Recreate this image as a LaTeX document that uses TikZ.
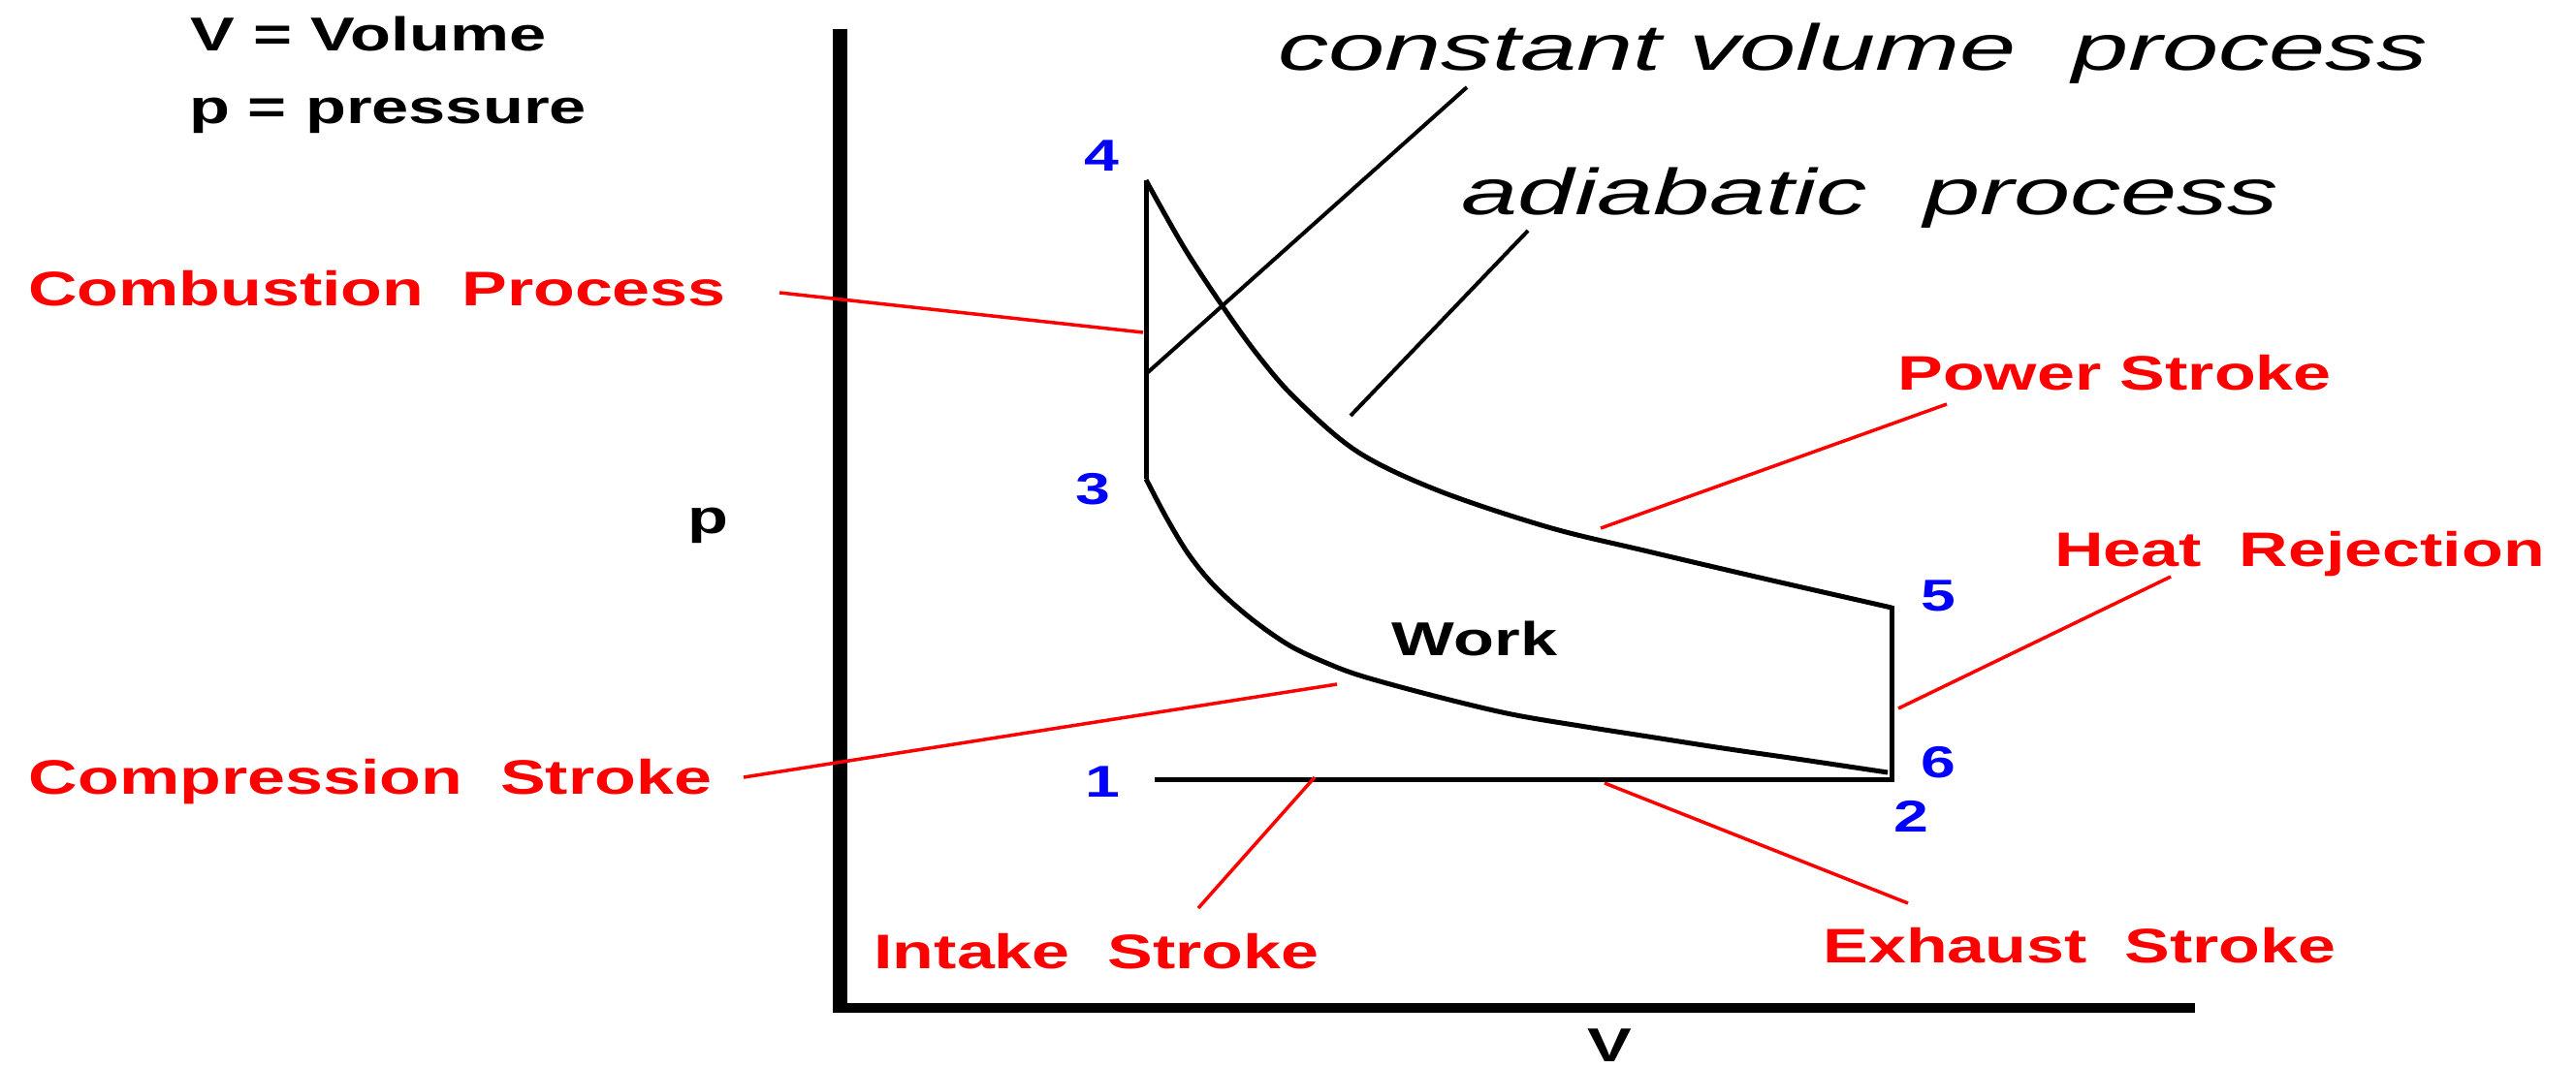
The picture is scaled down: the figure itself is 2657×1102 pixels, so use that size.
\documentclass[tikz,border=0pt]{standalone}
\usepackage{fontspec}
\setmainfont{Liberation Sans}
\newfontfamily\labfont{Liberation Sans}[FakeStretch=1.4]
\newfontfamily\slfont{Liberation Sans}[FakeStretch=1.56]
\begin{document}
\begin{tikzpicture}[x=1pt,y=-1pt,
  lab/.style={inner sep=0pt, anchor=base, text=red, font=\labfont\bfseries\fontsize{50}{60}\selectfont},
  blk/.style={inner sep=0pt, anchor=base, text=black, font=\labfont\bfseries\fontsize{49}{60}\selectfont},
  num/.style={inner sep=0pt, anchor=base, text=blue, font=\labfont\bfseries\fontsize{46}{55}\selectfont},
  sl/.style={inner sep=0pt, anchor=base, text=black, font=\slfont\itshape\fontsize{67}{80}\selectfont},
  cyc/.style={black, line width=5pt, line join=miter},
  lead/.style={red, line width=3.5pt},
  bl/.style={black, line width=4pt},
  vaxis/.style={black, line width=15pt},
  haxis/.style={black, line width=10pt}]
\fill[white] (0,0) rectangle (2657,1102);
\useasboundingbox (0,0) rectangle (2657,1102);

% axes
\coordinate (ytop) at (866.5,30);
\coordinate (orig) at (866.5,1045);
\coordinate (xorig) at (859,1040);
\coordinate (xend) at (2264,1040);
\draw[vaxis] (ytop) -- (orig);
\draw[haxis] (xorig) -- (xend);

% legend and axis labels
\node[blk] (vvol) at (380,53) {V = Volume};
\node[blk] (ppres) at (400,128) {p = pressure};
\node[blk] (plab) at (730,550) {p};
\node[blk] (vlab) at (1660,1095) {V};
\node[blk] (work) at (1521,676) {Work};

% cycle points
\coordinate (p4) at (1182,186);
\coordinate (p3) at (1182,494);
\coordinate (p1) at (1191,804);
\coordinate (p2) at (1951,804);
\coordinate (p5) at (1951,625);
\coordinate (p6) at (1951,798);

% cycle
\draw[cyc] (p3) -- (p4);
\draw[cyc] plot[smooth, tension=0.55] coordinates {(1182,186) (1221,255) (1261,316) (1297,366) (1336,411) (1400,466) (1483,506) (1597,544) (1700,569) (1815,596) (1951,627)};
\draw[cyc] plot[smooth, tension=0.55] coordinates {(1182,494) (1203,534) (1226,572) (1253,605) (1290,638) (1330,666) (1368,684) (1406,698) (1483,719) (1559,737) (1636,750) (1700,760) (1777,772) (1853,783) (1947,797)};
\draw[cyc] (p1) -- (p2) -- (p5);

% point numbers
\node[num] (n4) at (1136,177) {4};
\node[num] (n3) at (1127,520) {3};
\node[num] (n1) at (1137,822) {1};
\node[num] (n5) at (1999,630) {5};
\node[num] (n6) at (1999,802) {6};
\node[num] (n2) at (1971,858) {2};

% italic process labels and black leaders
\node[sl] (cvp) at (1911,73) {constant volume\ \ process};
\node[sl] (adp) at (1929,222) {adiabatic\ \ process};
\coordinate (cvA) at (1183,385);
\coordinate (cvB) at (1513,90);
\coordinate (adA) at (1393,429);
\coordinate (adB) at (1576,238);
\draw[bl] (cvA) -- (cvB);
\draw[bl] (adA) -- (adB);

% red labels
\node[lab] (comb) at (389,315) {Combustion\ \ Process};
\node[lab] (comp) at (382,819) {Compression\ \ Stroke};
\node[lab] (intk) at (1131,999) {Intake\ \ Stroke};
\node[lab] (exh) at (2145,993) {Exhaust\ \ Stroke};
\node[lab] (pow) at (2181,402) {Power Stroke};
\node[lab] (heat) at (2372,584) {Heat\ \ Rejection};

% red leaders
\coordinate (combA) at (804,302);
\coordinate (combB) at (1179,343);
\coordinate (compA) at (767,802);
\coordinate (compB) at (1379,706);
\coordinate (intA) at (1236,937);
\coordinate (intB) at (1356,802);
\coordinate (exA) at (1655,808);
\coordinate (exB) at (1968,932);
\coordinate (powA) at (1651,545);
\coordinate (powB) at (2008,417);
\coordinate (heA) at (1958,731);
\coordinate (heB) at (2239,595);
\draw[lead] (combA) -- (combB);
\draw[lead] (compA) -- (compB);
\draw[lead] (intA) -- (intB);
\draw[lead] (exA) -- (exB);
\draw[lead] (powA) -- (powB);
\draw[lead] (heA) -- (heB);
\end{tikzpicture}
\end{document}
